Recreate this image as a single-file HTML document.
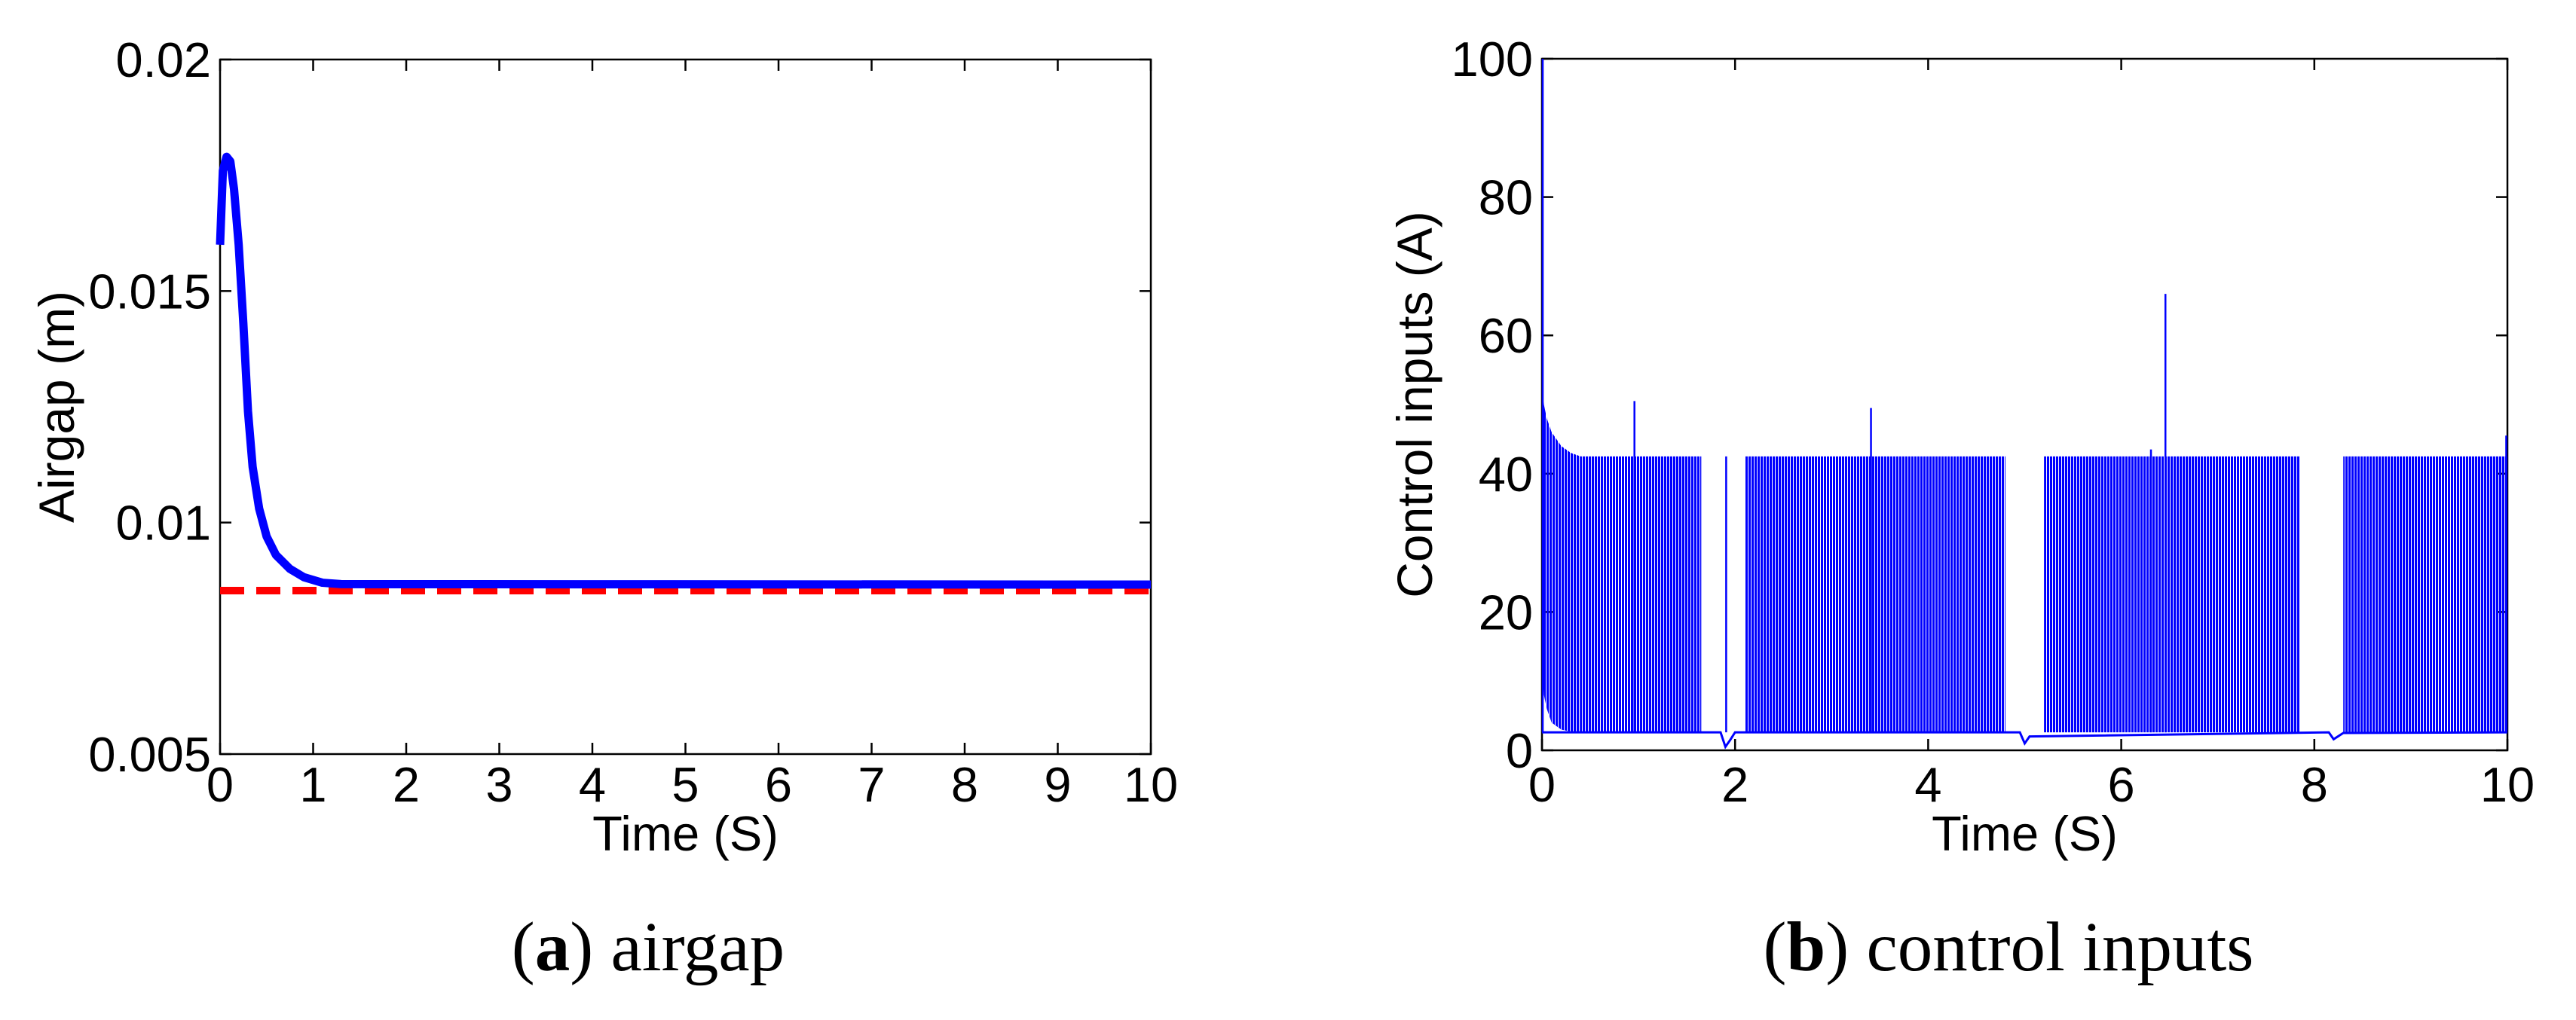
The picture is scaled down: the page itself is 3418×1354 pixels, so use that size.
<!DOCTYPE html>
<html><head><meta charset="utf-8"><style>
html,body{margin:0;padding:0;background:#fff;width:3418px;height:1354px;overflow:hidden}
svg text{font-family:"Liberation Sans",sans-serif}
.cap{font-family:"Liberation Serif",serif}
</style></head><body>
<svg id="fig" width="3418" height="1354" viewBox="0 0 3418 1354" xmlns="http://www.w3.org/2000/svg">
<defs>
<pattern id="stripes" width="4" height="10" patternUnits="userSpaceOnUse">
<rect x="0" y="0" width="3" height="10" fill="#0000ff"/>
</pattern>
</defs>
<g id="plotA"></g>
<g id="plotB"></g>
<text class="cap" x="860" y="1288" font-size="93" text-anchor="middle">(<tspan font-weight="bold">a</tspan>) airgap</text>
<text class="cap" x="2665" y="1288" font-size="93" text-anchor="middle">(<tspan font-weight="bold">b</tspan>) control inputs</text>
</svg>
<script>
// ---- Chart A data ----
const aTicksX = [0,1,2,3,4,5,6,7,8,9,10];
const aTicksY = [0.005,0.01,0.015,0.02];
const aTickLabelsY = ["0.005","0.01","0.015","0.02"];
const airT = [0,0.03,0.07,0.11,0.15,0.2,0.25,0.3,0.35,0.42,0.5,0.6,0.75,0.9,1.1,1.3,10];
const airV = [0.016,0.0176,0.0179,0.0178,0.0172,0.016,0.0143,0.0124,0.0112,0.0103,0.0097,0.0093,0.009,0.00882,0.0087,0.00867,0.00866];
const refT = [0,10];
const refV = [0.00853,0.00853];
// ---- Chart B data ----
const bTicksX = [0,2,4,6,8,10];
const bTicksY = [0,20,40,60,80,100];
const envT = [0,0.02,0.05,0.1,0.2,0.3,0.4];
const envHi = [52,50,48,46,44,43,42.5];
const envLo = [12,8,6,4,3,2.7,2.5];
const bandStart = [0.4,2.1,5.2,8.3];
const bandEnd = [1.65,4.8,7.85,10];
const bandHi = [42.5,42.5,42.5,42.5];
const baseT = [0,1.85,1.9,1.95,2.0,4.95,5.0,5.05,8.15,8.2,8.3,10];
const baseV = [2.6,2.6,0.5,1.5,2.6,2.6,1,2,2.6,1.6,2.5,2.6];
const spikeT = [0,0.95,1.9,3.4,6.3,6.45,9.98];
const spikeV = [100,50.5,42.5,49.5,43.5,66,45.5];

const NS="http://www.w3.org/2000/svg";
function mk(parent,tag,attrs){const e=document.createElementNS(NS,tag);for(const k in attrs)e.setAttribute(k,attrs[k]);parent.appendChild(e);return e;}

function axes(g,L,R,T,B,xmin,xmax,ymin,ymax,tx,ty,tyLabels,xlabel,ylabel,ylx){
  const sx=v=>L+(v-xmin)/(xmax-xmin)*(R-L);
  const sy=v=>B-(v-ymin)/(ymax-ymin)*(B-T);
  const box=mk(g,'rect',{x:L,y:T,width:R-L,height:B-T,fill:'none',stroke:'#000','stroke-width':2.5});
  
  
  tx.forEach(v=>{
    const x=sx(v);
    const t1=mk(g,'line',{x1:x,x2:x,y1:B,y2:B-15,stroke:'#000','stroke-width':2.5});
    
    
    mk(g,'line',{x1:x,x2:x,y1:T,y2:T+15,stroke:'#000','stroke-width':2.5});
    const lb=mk(g,'text',{x:x,y:1064,'font-size':65,'text-anchor':'middle'});
    lb.textContent=String(v);
    
    
  });
  ty.forEach((v,i)=>{
    const y=sy(v);
    const t1=mk(g,'line',{x1:L,x2:L+15,y1:y,y2:y,stroke:'#000','stroke-width':2.5});
    
    
    mk(g,'line',{x1:R,x2:R-15,y1:y,y2:y,stroke:'#000','stroke-width':2.5});
    const lb=mk(g,'text',{x:L-12,y:y+23,'font-size':65,'text-anchor':'end'});
    lb.textContent=tyLabels?tyLabels[i]:String(v);
    
    
  });
  const xl=mk(g,'text',{x:(L+R)/2,y:1129,'font-size':65,'text-anchor':'middle'});
  xl.textContent=xlabel;
  
  
  const yc=(T+B)/2;
  const yl=mk(g,'text',{x:ylx,y:yc,'font-size':66,'text-anchor':'middle',transform:`rotate(-90 ${ylx} ${yc})`});
  yl.textContent=ylabel;
  
  
  return {sx,sy};
}

// Chart A
const gA=document.getElementById('plotA');
const A=axes(gA,292,1527,79,1001,0,10,0.005,0.02,aTicksX,aTicksY,aTickLabelsY,'Time (S)','Airgap (m)',98);
const ref=mk(gA,'polyline',{points:refT.map((t,i)=>A.sx(t)+','+A.sy(refV[i])).join(' '),fill:'none',stroke:'#ff0000','stroke-width':10,'stroke-dasharray':'32 16'});


const air=mk(gA,'polyline',{points:airT.map((t,i)=>A.sx(t)+','+A.sy(airV[i])).join(' '),fill:'none',stroke:'#0000ff','stroke-width':11,'stroke-linejoin':'round'});



// Chart B
const gB=document.getElementById('plotB');
const B=axes(gB,2046,3327,78,996,0,10,0,100,bTicksX,bTicksY,null,'Time (S)','Control inputs (A)',1900);
const envPts=envT.map((t,i)=>B.sx(t)+','+B.sy(envHi[i])).concat(envT.slice().reverse().map((t,i)=>B.sx(t)+','+B.sy(envLo[envT.length-1-i])));
const env=mk(gB,'polygon',{points:envPts.join(' '),fill:'url(#stripes)'});


bandStart.forEach((s,i)=>{
  const r=mk(gB,'rect',{x:B.sx(s),y:B.sy(bandHi[i]),width:B.sx(bandEnd[i])-B.sx(s),height:B.sy(2.6)-B.sy(bandHi[i]),fill:'url(#stripes)'});
  
  
});
const base=mk(gB,'polyline',{points:baseT.map((t,i)=>B.sx(t)+','+B.sy(baseV[i])).join(' '),fill:'none',stroke:'#0000ff','stroke-width':3});


spikeT.forEach((t,i)=>{
  const l=mk(gB,'line',{x1:B.sx(t)+1,x2:B.sx(t)+1,y1:B.sy(2.6),y2:B.sy(spikeV[i]),stroke:'#0000ff','stroke-width':2.5});
  
  
});
</script>
</body></html>
